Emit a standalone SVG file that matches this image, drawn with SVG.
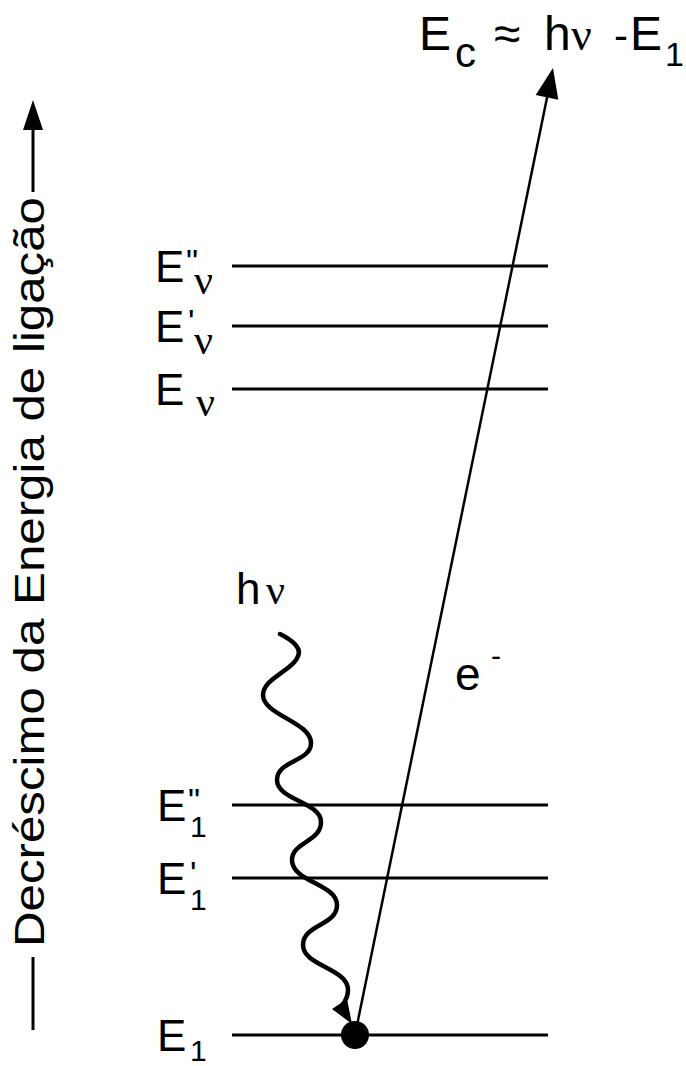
<svg xmlns="http://www.w3.org/2000/svg" width="686" height="1066" viewBox="0 0 686 1066">
<style>
.t{font-family:"Liberation Sans",Arial,sans-serif;fill:#000}
.g{font-family:"Liberation Serif","Times New Roman",serif}
.lvl{stroke:#000;stroke-width:3;fill:none}
</style>
<rect width="686" height="1066" fill="#fff"/>
<g id="axis">
<line x1="33" y1="126" x2="33" y2="192" stroke="#000" stroke-width="3"/>
<polygon points="33,100 23,130 43,130" fill="#000"/>
<line x1="33" y1="957" x2="33" y2="1030" stroke="#000" stroke-width="3"/>
<text class="t" font-size="43" transform="translate(44,947) rotate(-90)" textLength="750" lengthAdjust="spacingAndGlyphs">Decréscimo da Energia de ligação</text>
</g>
<g id="level-Ev2">
<line class="lvl" x1="232" y1="266" x2="548" y2="266"/>
<text class="t" font-size="44"><tspan x="155" y="282">E</tspan><tspan x="186" y="273" font-size="34">"</tspan><tspan class="g" x="194" y="294" font-size="42">ν</tspan></text>
</g>
<g id="level-Ev1">
<line class="lvl" x1="232" y1="326" x2="548" y2="326"/>
<text class="t" font-size="44"><tspan x="155" y="342">E</tspan><tspan x="188" y="333" font-size="34">'</tspan><tspan class="g" x="194" y="354" font-size="42">ν</tspan></text>
</g>
<g id="level-Ev">
<line class="lvl" x1="232" y1="389" x2="548" y2="389"/>
<text class="t" font-size="44"><tspan x="155" y="405">E</tspan><tspan class="g" x="196" y="416" font-size="42">ν</tspan></text>
</g>
<g id="level-E1b">
<line class="lvl" x1="232" y1="805" x2="548" y2="805"/>
<text class="t" font-size="44"><tspan x="157" y="821">E</tspan><tspan x="188" y="812" font-size="34">"</tspan><tspan x="190" y="837" font-size="30">1</tspan></text>
</g>
<g id="level-E1a">
<line class="lvl" x1="232" y1="878" x2="548" y2="878"/>
<text class="t" font-size="44"><tspan x="157" y="894">E</tspan><tspan x="190" y="885" font-size="34">'</tspan><tspan x="190" y="910" font-size="30">1</tspan></text>
</g>
<g id="level-E1">
<line class="lvl" x1="232" y1="1035" x2="548" y2="1035"/>
<text class="t" font-size="44"><tspan x="157" y="1051">E</tspan><tspan x="190" y="1061" font-size="30">1</tspan></text>
</g>
<g id="photon">
<text class="t" font-size="44"><tspan x="236" y="604">h</tspan><tspan class="g" x="266" y="604" font-size="42">ν</tspan></text>
</g>
<g id="electron-label">
<text class="t" font-size="46"><tspan x="455" y="690">e</tspan><tspan x="491" y="666" font-size="30">-</tspan></text>
</g>
<g id="energy-label">
<text class="t" font-size="48"><tspan x="419" y="50">E</tspan><tspan x="455" y="67" font-size="42">c</tspan><tspan x="494" y="50">≈</tspan><tspan x="544" y="50">h</tspan><tspan class="g" x="571" y="50" font-size="46">ν</tspan><tspan x="614" y="50" font-size="42">-</tspan><tspan x="630" y="50">E</tspan><tspan x="665" y="66" font-size="34">1</tspan></text>
</g>
<g id="connectors">
<path d="M280,634 C292,640 302,648 298,656 C294,670 263,678 263,695 C263,715 311,722 311,743 C311,762 277,760 277,780 C277,800 321,802 321,822 C321,842 292,842 292,860 C292,882 337,884 337,905 C337,926 303,924 303,945 C303,966 348,968 348,990 C348,996 346,1000 343,1004" fill="none" stroke="#000" stroke-width="4.5" stroke-linecap="round"/>
<polygon points="332,1009 347,999 352,1024" fill="#000"/>
<line x1="355" y1="1035" x2="549" y2="88" stroke="#000" stroke-width="2.5"/>
<polygon points="553,68 535.7,95.1 558.3,99.7" fill="#000"/>
<circle cx="355" cy="1035" r="14" fill="#000"/>
</g>
</svg>
